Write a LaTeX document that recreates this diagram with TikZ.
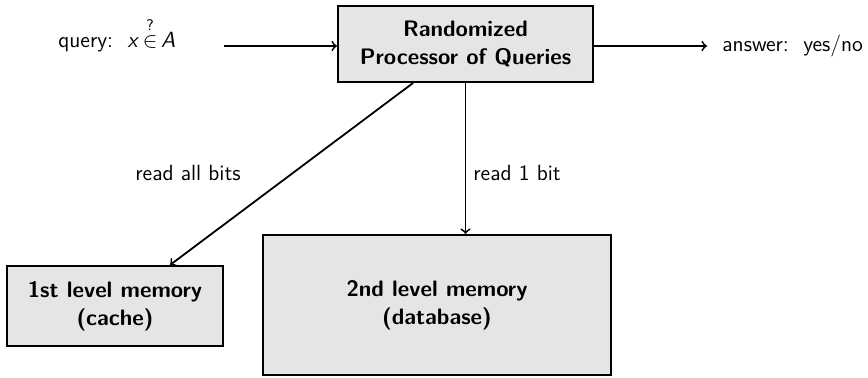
\documentclass[tikz,border=0pt]{standalone}
\usepackage{amsmath}
\begin{document}
\begin{tikzpicture}[x=0.5pt,y=-0.5pt,
  font=\sffamily\fontsize{11}{14}\selectfont,
  box/.style={draw, line width=1pt, fill=black!10, align=center, inner sep=0pt,
    font=\sffamily\bfseries\fontsize{11.2}{14}\selectfont},
  conn/.style={->, line width=0.9pt},
  lbl/.style={anchor=base west, inner sep=0pt}]
\useasboundingbox (0,0) rectangle (868,377);
\node[box, minimum width=127.5pt, minimum height=38pt] (proc) at (465.5,44) {Randomized\\Processor of Queries};
\node[box, minimum width=108pt, minimum height=40pt] (cache) at (115,306) {1st level memory\\(cache)};
\node[box, minimum width=174pt, minimum height=70pt] (db) at (437,305) {2nd level memory\\(database)};
\node[lbl] (q) at (58,47) {query:\ \ \textit{x}\,$\overset{\textsf{?}}{\in}$\,\textit{A}};
\node[lbl] (ans) at (722,51) {answer:\ \ yes/no};
\coordinate (qin) at (224,46);
\coordinate (aout) at (707,46);
\draw[conn] (qin) -- (qin -| proc.west);
\draw[conn] (proc.east |- aout) -- (aout);
\draw[conn] ([xshift=-26.25pt]proc.south) -- ([xshift=27.5pt]cache.north);
\draw[conn] (proc.south) -- (proc.south |- db.north);
\node[lbl] (l1) at (135,180) {read all bits};
\node[lbl] (l2) at (473,180) {read 1 bit};
\end{tikzpicture}
\end{document}
